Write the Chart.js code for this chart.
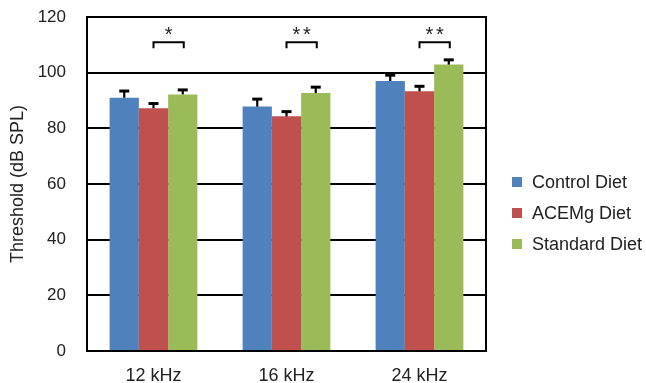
<!DOCTYPE html>
<html>
<head>
<meta charset="utf-8">
<style>
  html, body { margin: 0; padding: 0; background: #fff; }
  #wrap { width: 646px; height: 383px; }
</style>
<script src="https://cdn.jsdelivr.net/npm/chart.js@4/dist/chart.umd.min.js"></script>
</head>
<body>
<div id="wrap"><canvas id="c" width="646" height="383"></canvas></div>
<script>
// Hearing thresholds per frequency and diet group (mean and SEM)
const categories = ['12 kHz', '16 kHz', '24 kHz'];
const seriesNames = ['Control Diet', 'ACEMg Diet', 'Standard Diet'];
const controlMean = [91.0, 87.8, 97.0];
const acemgMean = [87.2, 84.3, 93.3];
const standardMean = [92.2, 92.7, 102.9];
const controlErr = [2.4, 2.7, 2.1];
const acemgErr = [1.7, 1.7, 1.8];
const standardErr = [1.6, 2.1, 1.7];
const significance = ['*', '**', '**'];
const yTicks = [0, 20, 40, 60, 80, 100, 120];

const colors = ['#4F81BD', '#C0504D', '#9BBB59'];
const FONT = '"Liberation Sans", Arial, Helvetica, sans-serif';
const TEXT = '#222';

const means = [controlMean, acemgMean, standardMean];
const errs = [controlErr, acemgErr, standardErr];

// Upward-only error bars with a flat cap
const errorBars = {
  id: 'errorBars',
  afterDatasetsDraw(chart) {
    const { ctx, scales: { y } } = chart;
    ctx.save();
    ctx.strokeStyle = '#000';
    chart.data.datasets.forEach((ds, i) => {
      const meta = chart.getDatasetMeta(i);
      meta.data.forEach((bar, j) => {
        const top = y.getPixelForValue(ds.data[j] + ds.errors[j]);
        ctx.lineWidth = 2.2;
        ctx.beginPath();
        ctx.moveTo(bar.x, bar.y);
        ctx.lineTo(bar.x, top);
        ctx.stroke();
        ctx.lineWidth = 3;
        ctx.beginPath();
        ctx.moveTo(bar.x - 5, top);
        ctx.lineTo(bar.x + 5, top);
        ctx.stroke();
      });
    });
    ctx.restore();
  }
};

// Significance brackets between ACEMg and Standard bars, plus right frame edge and legend
const extras = {
  id: 'extras',
  afterDraw(chart) {
    const { ctx, chartArea, scales: { y } } = chart;
    ctx.save();
    // right frame edge
    ctx.strokeStyle = '#000';
    ctx.lineWidth = 2;
    ctx.beginPath();
    ctx.moveTo(chartArea.right, chartArea.top - 1);
    ctx.lineTo(chartArea.right, chartArea.bottom + 1);
    ctx.stroke();

    const m1 = chart.getDatasetMeta(1);
    const m2 = chart.getDatasetMeta(2);
    const bracketTop = y.getPixelForValue(110.9);
    ctx.lineWidth = 2;
    ctx.fillStyle = TEXT;
    ctx.font = '20px ' + FONT;
    ctx.textBaseline = 'alphabetic';
    ctx.textAlign = 'center';
    significance.forEach((s, j) => {
      const x1 = m1.data[j].x, x2 = m2.data[j].x + 1;
      ctx.beginPath();
      ctx.moveTo(x1, bracketTop + 6);
      ctx.lineTo(x1, bracketTop);
      ctx.lineTo(x2, bracketTop);
      ctx.lineTo(x2, bracketTop + 6);
      ctx.stroke();
      const cx = (x1 + x2) / 2;
      const step = ctx.measureText('*').width + 2.5;
      const chars = s.split('');
      chars.forEach((ch, k) => {
        ctx.fillText(ch, cx + (k - (chars.length - 1) / 2) * step, bracketTop - 1);
      });
    });

    // legend
    ctx.textAlign = 'left';
    ctx.textBaseline = 'middle';
    ctx.font = '18px ' + FONT;
    chart.data.datasets.forEach((ds, i) => {
      const cy = 182 + i * 31;
      ctx.fillStyle = ds.backgroundColor;
      ctx.fillRect(chartArea.right + 26, cy - 5, 10, 10);
      ctx.fillStyle = TEXT;
      ctx.fillText(ds.label, chartArea.right + 46, cy + 1);
    });
    ctx.restore();
  }
};

new Chart(document.getElementById('c'), {
  type: 'bar',
  data: {
    labels: categories,
    datasets: seriesNames.map((name, i) => ({
      label: name,
      data: means[i],
      errors: errs[i],
      backgroundColor: colors[i],
      borderWidth: 0,
      categoryPercentage: 0.66,
      barPercentage: 1.0
    }))
  },
  options: {
    responsive: false,
    animation: false,
    devicePixelRatio: 1,
    layout: { padding: { top: 17, right: 160, left: 0, bottom: 0 } },
    plugins: {
      legend: { display: false },
      tooltip: { enabled: false }
    },
    scales: {
      x: {
        grid: { display: false },
        border: { display: false },
        ticks: { color: TEXT, font: { family: FONT, size: 18 }, padding: 6, maxRotation: 0 },
        afterFit(s) { s.height = 32; s.paddingLeft = 0; s.paddingRight = 0; }
      },
      y: {
        min: 0,
        max: 120,
        afterBuildTicks(s) { s.ticks = yTicks.map(v => ({ value: v })); },
        ticks: { color: TEXT, font: { family: FONT, size: 17 }, padding: 21 },
        grid: { color: '#000', lineWidth: 2, drawTicks: false },
        border: { display: true, color: '#000', width: 2 },
        title: {
          display: true,
          text: 'Threshold (dB SPL)',
          color: TEXT,
          font: { family: FONT, size: 18 },
          padding: { top: 7, bottom: 0 }
        },
        afterFit(s) { s.width = 87; s.paddingTop = 0; s.paddingBottom = 0; }
      }
    }
  },
  plugins: [errorBars, extras]
});
</script>
</body>
</html>
